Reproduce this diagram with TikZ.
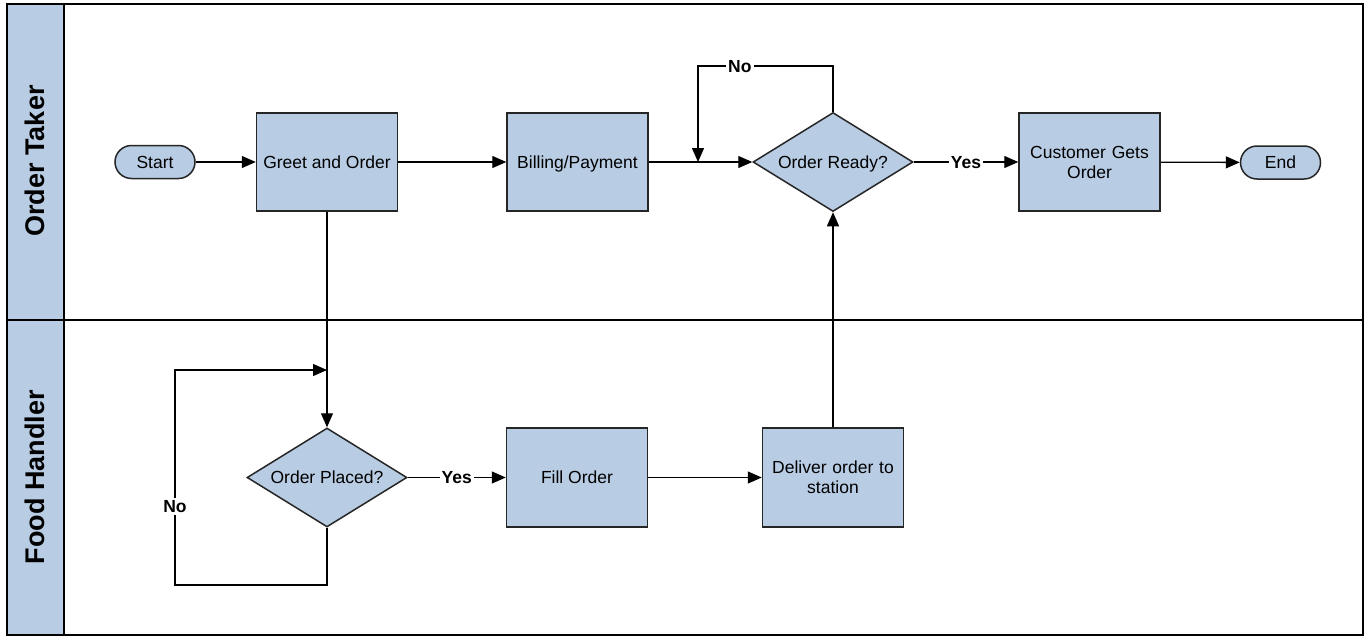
\documentclass[tikz,border=0pt]{standalone}
\usepackage{fontspec}
\setmainfont{Liberation Sans}
\usetikzlibrary{shapes.geometric,arrows.meta}
\definecolor{lanefill}{HTML}{B8CCE4}
\begin{document}
\begin{tikzpicture}[x=1pt,y=-1pt,
  every node/.style={font=\fontsize{17.5}{20}\selectfont},
  oneline/.style={text height=12.5pt,text depth=0pt},
  procbox/.style={draw=black!85,line width=1.5pt,fill=lanefill,rectangle,inner sep=0pt,
    minimum width=141pt,minimum height=98pt,align=center},
  termbox/.style={draw=black!85,line width=1.5pt,fill=lanefill,rectangle,rounded corners=16.5pt,
    inner sep=0pt,minimum width=80pt,minimum height=33pt,oneline},
  decbox/.style={draw=black!85,line width=1.5pt,fill=lanefill,diamond,aspect=1.6,inner sep=0pt,
    minimum width=160pt,minimum height=99pt,oneline},
  conn/.style={line width=1.3pt,draw=black},
  arr/.style={conn,-{Triangle[length=14pt,width=12pt]}},
  lbl/.style={fill=white,inner sep=2pt,oneline,font=\bfseries\fontsize{17.5}{20}\selectfont},
  lanehead/.style={rotate=90,font=\bfseries\fontsize{27}{32}\selectfont}
]
\useasboundingbox (0,0) rectangle (1368,637);
\fill[white] (0,0) rectangle (1368,637);
% swimlanes
\fill[lanefill] (7,4) rectangle (64,635);
\draw[line width=2.8pt] (7,4) rectangle (1363,635);
\draw[line width=2.8pt] (7,320) -- (1363,320);
\draw[line width=2.8pt] (64,4) -- (64,635);
\node[lanehead] (laneA) at (35,161) {Order Taker};
\node[lanehead] (laneB) at (35,477) {Food Handler};
% nodes
\node[termbox] (start) at (155,162) {Start};
\node[procbox,oneline] (greet) at (327,162) {Greet and Order};
\node[procbox,oneline] (bill) at (577.5,162) {Billing/Payment};
\node[decbox] (ready) at (833,162) {Order Ready?};
\node[procbox,text width=136pt] (cust) at (1089.5,162) {Customer Gets\\Order};
\node[termbox] (end) at (1280.5,162.5) {End};
\node[decbox] (placed) at (327,477.5) {Order Placed?};
\node[procbox,oneline,minimum height=99pt] (fill) at (577,477.5) {Fill Order};
\node[procbox,minimum height=99pt,text width=136pt] (deliver) at (833,477.5) {Deliver order to\\station};
% helper coordinates
\coordinate (rn1) at (833,66);
\coordinate (rn2) at (698,66);
\coordinate (rn3) at (698,162);
\coordinate (pn1) at (327,585);
\coordinate (pn2) at (175,585);
\coordinate (pn3) at (175,370);
\coordinate (pn4) at (327,370);
% connectors
\draw[arr] (start) -- (greet);
\draw[arr] (greet) -- (bill);
\draw[arr] (bill.east) -- (ready.west);
\draw[arr] (ready.east) -- node[lbl] (yes1) {Yes} (cust.west);
\draw[arr] (cust) -- (end);
\draw[arr] (ready.north) -- (rn1) -- node[lbl,pos=0.69] (no1) {No} (rn2) -- (rn3);
\draw[arr] (greet.south) -- (placed.north);
\draw[arr] (placed.south) -- (pn1) -- (pn2) -- node[lbl,pos=0.366] (no2) {No} (pn3) -- (pn4);
\draw[arr] (placed.east) -- node[lbl] (yes2) {Yes} (fill.west);
\draw[arr] (fill) -- (deliver);
\draw[arr] (deliver.north) -- (ready.south);
\end{tikzpicture}
\end{document}
